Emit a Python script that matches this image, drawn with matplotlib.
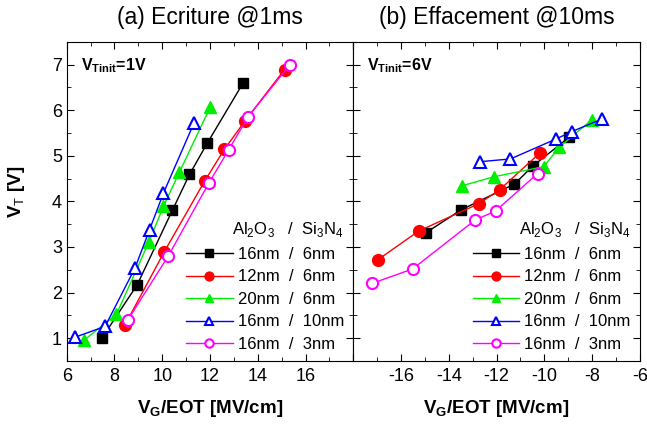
import matplotlib
matplotlib.use("Agg")
import matplotlib.pyplot as plt
from matplotlib.ticker import MultipleLocator, FuncFormatter

plt.rcParams['font.family'] = ['Liberation Sans', 'DejaVu Sans']
plt.rcParams['mathtext.fontset'] = 'custom'
plt.rcParams['mathtext.rm'] = 'Liberation Sans'
plt.rcParams['mathtext.bf'] = 'Liberation Sans:bold'
plt.rcParams['axes.unicode_minus'] = False

# series labels (Al2O3 / Si3N4 thickness)
labels = ['16nm  /  6nm', '12nm  /  6nm', '20nm  /  6nm', '16nm  /  10nm', '16nm  /  3nm']
colors = ['black', 'red', '#00ee00', 'blue', 'magenta']
markers = ['s', 'o', '^', '^', 'o']
filled = [True, True, True, False, False]
msizes = [7.5, 8.5, 8.5, 8.5, 8]

# (a) writing @1ms : VG/EOT [MV/cm], VT [V]
write_x = [
    [7.47, 8.95, 10.42, 11.14, 11.89, 13.39],
    [8.45, 10.08, 11.78, 12.60, 13.46, 15.12],
    [6.71, 8.08, 9.44, 10.05, 10.72, 12.01],
    [6.34, 7.61, 8.86, 9.47, 10.05, 11.33],
    [8.56, 10.26, 11.95, 12.78, 13.59, 15.35],
]
write_y = [
    [1.00, 2.17, 3.80, 4.59, 5.28, 6.60],
    [1.30, 2.89, 4.45, 5.14, 5.76, 6.89],
    [0.95, 1.52, 3.11, 3.89, 4.64, 6.07],
    [1.02, 1.26, 2.54, 3.38, 4.18, 5.72],
    [1.40, 2.81, 4.40, 5.13, 5.85, 7.00],
]

# (b) erasing @10ms
erase_x = [
    [-14.96, -13.50, -11.25, -10.47, -8.95],
    [-16.97, -15.26, -12.74, -11.86, -10.17],
    [-13.46, -12.11, -10.03, -9.37, -8.01],
    [-12.69, -11.42, -9.50, -8.85, -7.57],
    [-17.22, -15.51, -12.90, -12.04, -10.28],
]
erase_y = [
    [3.31, 3.81, 4.38, 4.78, 5.41],
    [2.72, 3.35, 3.95, 4.26, 5.07],
    [4.34, 4.54, 4.76, 5.19, 5.79],
    [4.87, 4.93, 5.37, 5.53, 5.81],
    [2.20, 2.52, 3.59, 3.79, 4.61],
]

fig = plt.figure(figsize=(6.47, 4.28), dpi=100)
ax1 = fig.add_axes([0.1031, 0.1565, 0.443, 0.746])
ax2 = fig.add_axes([0.546, 0.1565, 0.443, 0.746])


def draw(ax, xs, ys):
    for x, y, lab, c, m, f, ms in zip(xs, ys, labels, colors, markers, filled, msizes):
        ax.plot(x, y, color=c, lw=1, marker=m, ms=ms, mec=c,
                mfc=c if f else 'white', mew=1.5 if not f else 1, label=lab)
    ax.set_ylim(0.5, 7.5)
    ax.yaxis.set_major_locator(MultipleLocator(1))
    ax.yaxis.set_minor_locator(MultipleLocator(0.5))
    ax.xaxis.set_major_locator(MultipleLocator(2))
    ax.xaxis.set_minor_locator(MultipleLocator(1))
    ax.tick_params(which='both', direction='in', top=True, right=True, labelsize=13)
    ax.tick_params(which='major', length=5)
    ax.tick_params(which='minor', length=3)
    ax.tick_params(axis='x', pad=5)
    ax.legend(loc='lower right', bbox_to_anchor=(1.0, 0.0), frameon=False,
              fontsize=12, handlelength=2.8, handletextpad=0.3,
              labelspacing=0.45, markerscale=0.75, borderaxespad=0.15,
              title='Al$_2$O$_3$   /  Si$_3$N$_4$', title_fontsize=12,
              alignment='right')
    ax.set_xlabel(r'V$_\mathbf{G}$/EOT [MV/cm]', fontsize=13.5, fontweight='bold')
    ax.xaxis.set_label_coords(0.5, -0.117)
    ax.xaxis.label.set_va('top')


draw(ax1, write_x, write_y)
draw(ax2, erase_x, erase_y)

ax1.set_xlim(6, 18)
ax1.xaxis.set_major_formatter(FuncFormatter(lambda v, p: '' if v > 17 else '%d' % v))
ax2.set_xlim(-18, -6)
ax2.xaxis.set_major_formatter(FuncFormatter(lambda v, p: '' if v < -17 else '%d' % v))
ax2.tick_params(labelleft=False)

ax1.set_ylabel(r'V$_\mathrm{T}$ [V]', fontsize=13.5, fontweight='bold')
ax1.yaxis.set_label_coords(-0.14, 0.53)

ax1.set_title('(a) Ecriture @1ms', fontsize=16.5, pad=13)
ax2.set_title('(b) Effacement @10ms', fontsize=16.5, pad=13)

ax1.text(0.049, 0.911, r'$\mathbf{V_{Tinit}}$=1V', transform=ax1.transAxes,
         fontsize=11.5, fontweight='bold', va='baseline')
ax2.text(0.047, 0.911, r'$\mathbf{V_{Tinit}}$=6V', transform=ax2.transAxes,
         fontsize=11.5, fontweight='bold', va='baseline')

fig.savefig('out.png', dpi=100)
